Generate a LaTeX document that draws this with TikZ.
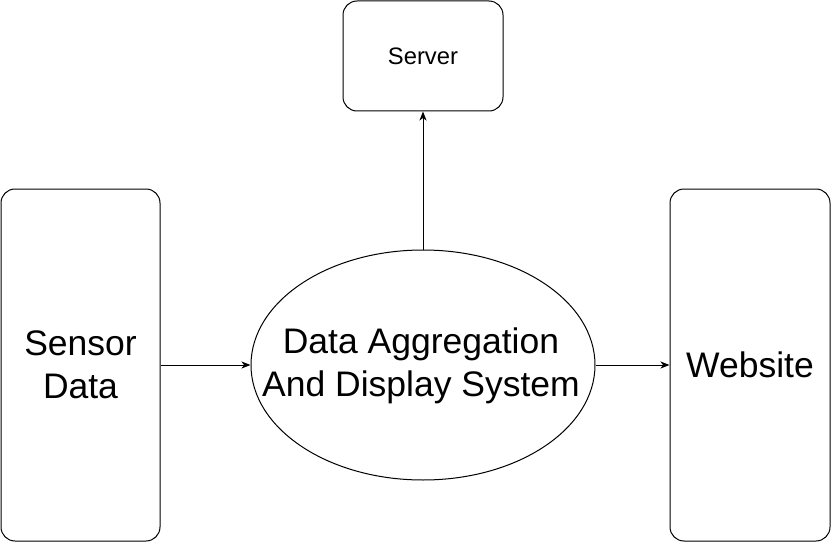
\documentclass[tikz,border=0pt]{standalone}
\usepackage{fontspec}
\setmainfont{Liberation Sans}
\usetikzlibrary{arrows.meta,shapes.geometric}

\tikzset{
  block/.style={draw={rgb, 255:red, 0; green, 0; blue, 0 }, line width=1pt, rounded corners=14pt,
    inner sep=0pt, align=center},
  bigtext/.style={font=\fontsize{35.5}{42.6}\selectfont},
  smalltext/.style={font=\fontsize{23.8}{28.5}\selectfont},
  flow/.style={draw={rgb, 255:red, 0; green, 0; blue, 0 }, line width=1pt,
    -{Stealth[length=9pt,width=7pt,inset=2.5pt]}}
}

\begin{document}
\begin{tikzpicture}[x=1pt,y=1pt,yscale=-1,xscale=1]
\useasboundingbox (0,0) rectangle (831,543);

%Shape: Rounded Rect [id:sensor]
\node [block, bigtext, minimum width=159pt, minimum height=352pt] (sensor) at (80.5,365) {Sensor\\Data};
%Shape: Rounded Rect [id:website]
\node [block, bigtext, minimum width=160pt, minimum height=352pt] (website) at (750,365) {Website};
%Shape: Rounded Rect [id:server]
\node [block, smalltext, minimum width=160pt, minimum height=110pt] (server) at (423,56) {Server};
%Shape: Ellipse [id:dads]
\node [draw={rgb, 255:red, 0; green, 0; blue, 0 }, line width=1pt, ellipse, inner sep=0pt,
  minimum width=344pt, minimum height=230pt] (dads) at (423,365) {};

% Text Node
\node [bigtext, align=center, inner sep=0pt] (dadstext) at (421,366) {Data Aggregation\\And Display System};

%Straight Lines [id:in]
\draw [flow] (sensor) -- (dads) ;
%Straight Lines [id:out]
\draw [flow] (dads) -- (website) ;
%Straight Lines [id:up]
\draw [flow] (dads.north) -- (server.south) ;

\end{tikzpicture}
\end{document}
